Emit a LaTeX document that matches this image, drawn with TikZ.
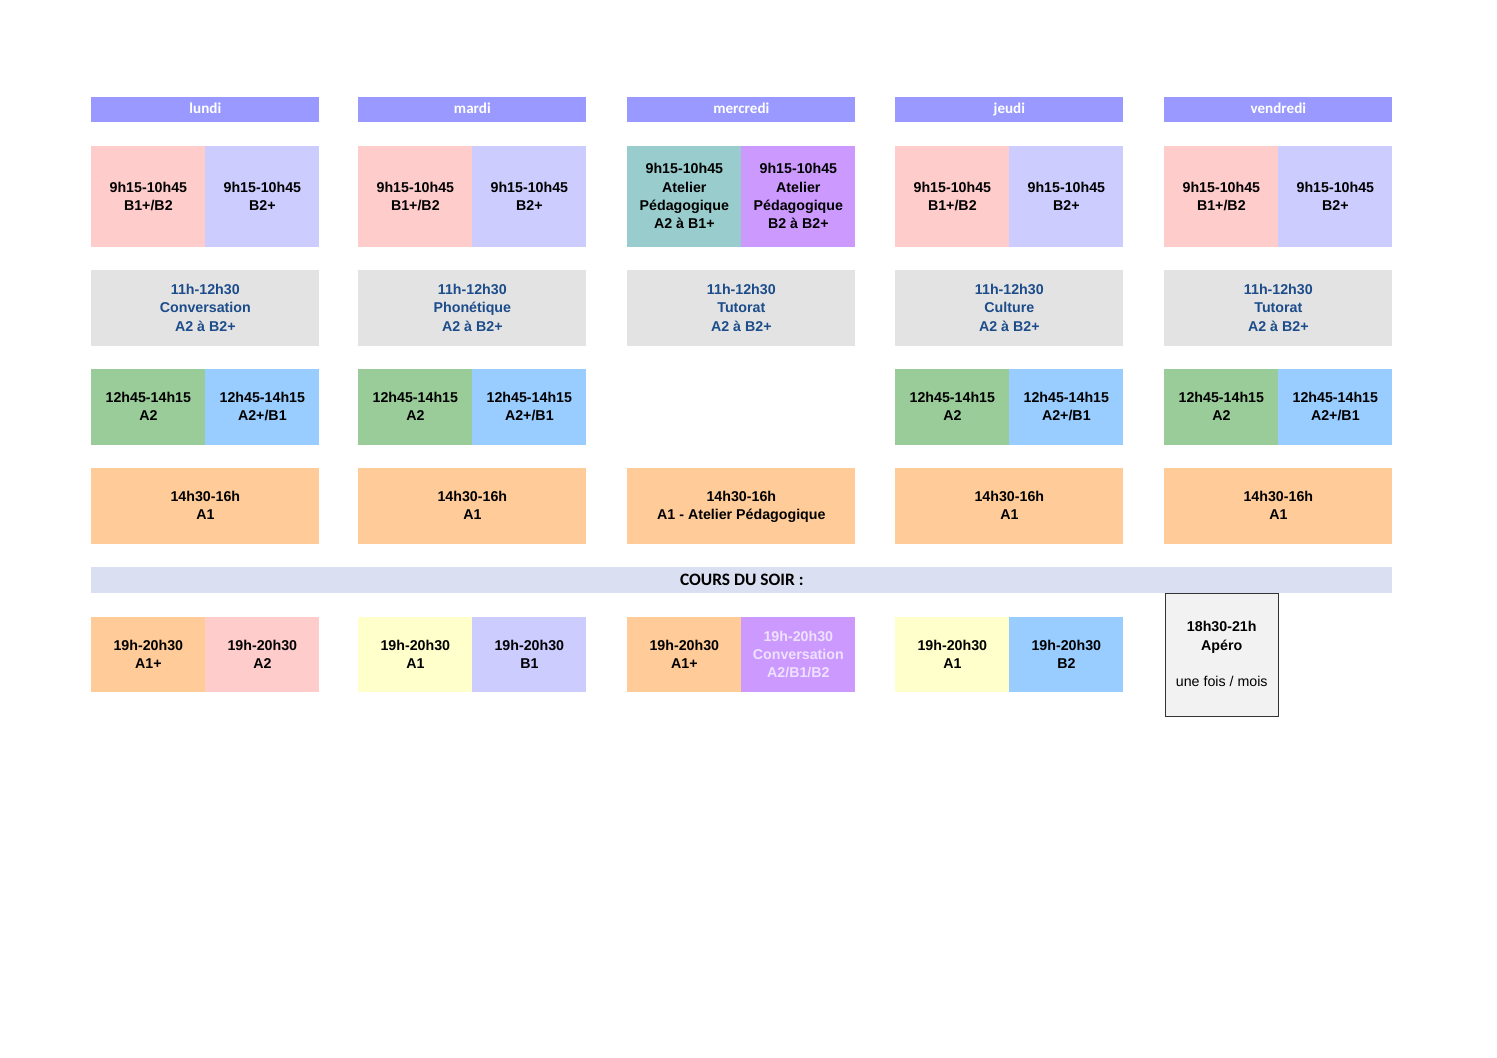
\documentclass[tikz,border=0pt]{standalone}
\usepackage{fontspec}
\setmainfont{Liberation Sans}
\newfontfamily\dayfont{Carlito}
\usepackage{xcolor}
\usepackage{tikz}

\definecolor{dayblue}{HTML}{9999FF}
\definecolor{pinkcell}{HTML}{FFCCCC}
\definecolor{lavcell}{HTML}{CCCCFF}
\definecolor{tealcell}{HTML}{99CCCC}
\definecolor{purplecell}{HTML}{CC99FF}
\definecolor{graycell}{HTML}{E3E3E3}
\definecolor{greencell}{HTML}{99CC99}
\definecolor{bluecell}{HTML}{99CCFF}
\definecolor{orangecell}{HTML}{FFCC99}
\definecolor{yellowcell}{HTML}{FFFFCC}
\definecolor{soirband}{HTML}{DAE0F2}
\definecolor{navytext}{HTML}{1C4C8A}
\definecolor{palepurple}{HTML}{EEE2FF}
\definecolor{aperofill}{HTML}{F2F2F2}

\begin{document}
\begin{tikzpicture}[x=0.5625pt, y=-0.5625pt,
    cell/.style={anchor=north west, inner sep=0pt, align=center, text depth=0.8pt,
        font=\fontsize{8}{10.3}\selectfont\bfseries},
    half/.style={minimum width=64.125pt},
    full/.style={minimum width=128.25pt},
    tall/.style={minimum height=56.8pt},
    slot/.style={minimum height=42.75pt},
    dayhead/.style={cell, full, minimum height=14.06pt, fill=dayblue, text=white,
        text depth=2pt, font=\dayfont\bfseries\fontsize{8.5}{10}\selectfont}]
    \useasboundingbox (0,0) rectangle (1497,1058);

    % Day headers
    \foreach \x/\d in {91/lundi,358/mardi,627/mercredi,895/jeudi,1164/vendredi}
        \node[dayhead] (h-\d) at (\x,97) {\d};

    % Morning
    \foreach \x/\d in {91/lun,358/mar,895/jeu,1164/ven} {
        \node[cell, half, tall, fill=pinkcell] (am-\d) at (\x,146) {9h15-10h45\\B1+/B2};
        \node[cell, half, tall, fill=lavcell] (bm-\d) at (\x+114,146) {9h15-10h45\\B2+};
    }
    \node[cell, half, tall, fill=tealcell] (am-mer) at (627,146) {9h15-10h45\\Atelier\\Pédagogique\\A2 à B1+};
    \node[cell, half, tall, fill=purplecell] (bm-mer) at (741,146) {9h15-10h45\\Atelier\\Pédagogique\\B2 à B2+};

    % Late morning
    \foreach \x/\d/\t in {91/lun/Conversation,358/mar/Phonétique,627/mer/Tutorat,895/jeu/Culture,1164/ven/Tutorat}
        \node[cell, full, slot, fill=graycell, text=navytext] (mid-\d) at (\x,270) {11h-12h30\\\t\\A2 à B2+};

    % Lunch
    \foreach \x/\d in {91/lun,358/mar,895/jeu,1164/ven} {
        \node[cell, half, slot, fill=greencell] (la-\d) at (\x,369) {12h45-14h15\\A2};
        \node[cell, half, slot, fill=bluecell] (lb-\d) at (\x+114,369) {12h45-14h15\\A2+/B1};
    }

    % Afternoon
    \foreach \x/\d/\t in {91/lun/A1,358/mar/A1,627/mer/A1 - Atelier Pédagogique,895/jeu/A1,1164/ven/A1}
        \node[cell, full, slot, fill=orangecell] (pm-\d) at (\x,468) {14h30-16h\\\t};

    % Evening
    \node[cell, minimum width=731.8pt, minimum height=14.6pt, fill=soirband,
        font=\dayfont\bfseries\fontsize{9.8}{11}\selectfont] (soir) at (91,567) {COURS DU SOIR :};
    \node[cell, half, minimum height=42.2pt, fill=orangecell] (ea-lun) at (91,617) {19h-20h30\\A1+};
    \node[cell, half, minimum height=42.2pt, fill=pinkcell] (eb-lun) at (205,617) {19h-20h30\\A2};
    \node[cell, half, minimum height=42.2pt, fill=yellowcell] (ea-mar) at (358,617) {19h-20h30\\A1};
    \node[cell, half, minimum height=42.2pt, fill=lavcell] (eb-mar) at (472,617) {19h-20h30\\B1};
    \node[cell, half, minimum height=42.2pt, fill=orangecell] (ea-mer) at (627,617) {19h-20h30\\A1+};
    \node[cell, half, minimum height=42.2pt, fill=purplecell, text=palepurple] (eb-mer) at (741,617) {19h-20h30\\Conversation\\A2/B1/B2};
    \node[cell, half, minimum height=42.2pt, fill=yellowcell] (ea-jeu) at (895,617) {19h-20h30\\A1};
    \node[cell, half, minimum height=42.2pt, fill=bluecell] (eb-jeu) at (1009,617) {19h-20h30\\B2};

    % Apero
    \node[cell, minimum width=63.6pt, minimum height=69.5pt, fill=aperofill,
        draw=black!80, line width=0.8pt] (apero) at (1164.5,592.5)
        {18h30-21h\\Apéro\\[10.3pt]{\mdseries une fois / mois}};
\end{tikzpicture}
\end{document}
